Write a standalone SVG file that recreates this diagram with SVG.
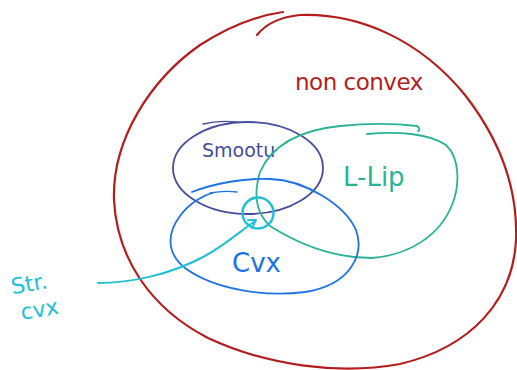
<svg xmlns="http://www.w3.org/2000/svg" width="517" height="370" viewBox="0 0 517 370">
<style>
.s{fill:none;stroke-linecap:round;stroke-linejoin:round}
.t{font-family:"DejaVu Sans","Liberation Sans",sans-serif}
</style>
<rect width="517" height="370" fill="#ffffff"/>
<g id="nonconvex">
<path class="s" stroke="#b51d1d" stroke-width="2.2" d="M257,35 C265,25 278,17 300,15 C360,13 420,40 465,95 C500,140 518,190 516,240 C513,300 472,347 400,364 C340,375 268,366 208,338 C150,308 117,258 114,200 C112,140 150,80 200,45 C228,27 255,16 283,12"/>
<text class="t" x="295" y="90" font-size="23" fill="#b51d1d" letter-spacing="-0.5">non convex</text>
</g>
<g id="smooth">
<ellipse class="s" cx="248" cy="168" rx="75" ry="46" stroke="#464c9f" stroke-width="1.8"/>
<path class="s" stroke="#464c9f" stroke-width="1.3" d="M203,124 C215,121 228,121 237,122"/>
<text class="t" x="202" y="157" font-size="19" fill="#464c9f">Smootu</text>
</g>
<g id="llip">
<path class="s" stroke="#2bb398" stroke-width="1.8" d="M367,134 C400,131 430,134 446,145 C460,158 460,185 452,205 C440,235 410,255 372,258 C335,258 300,245 270,226 C255,212 254,192 260,172 C272,145 300,130 340,126 C370,123 400,124 417,126 C420,128 420,131 418,131"/>
<text class="t" x="343" y="186" font-size="26" fill="#2bb398">L-Lip</text>
</g>
<g id="cvx">
<path class="s" stroke="#1c72e6" stroke-width="1.8" d="M192,192 C215,183 245,178 270,179 C305,180 345,205 356,230 C365,255 350,285 305,292 C265,297 215,290 185,268 C165,252 168,232 180,216 C190,202 205,195 212,193"/>
<path class="s" stroke="#1c72e6" stroke-width="1.3" d="M210,193 C220,191 230,191 237,192"/>
<text class="t" x="232" y="272" font-size="26" fill="#1c72e6">Cvx</text>
</g>
<g id="strcvx">
<circle class="s" cx="258" cy="213" r="15.5" stroke="#22c0d8" stroke-width="2.5"/>
<text class="t" font-size="22" fill="#22c0d8" transform="rotate(-10 14 292)"><tspan x="12" y="294">Str.</tspan><tspan x="17" y="321">cvx</tspan></text>
</g>
<g id="connectors">
<path class="s" stroke="#22c0d8" stroke-width="2" d="M98,283 C130,283 170,275 205,256 C225,245 242,230 255,221"/>
<path class="s" stroke="#22c0d8" stroke-width="2" d="M248,220 L256,220 L252,228"/>
</g>
</svg>
